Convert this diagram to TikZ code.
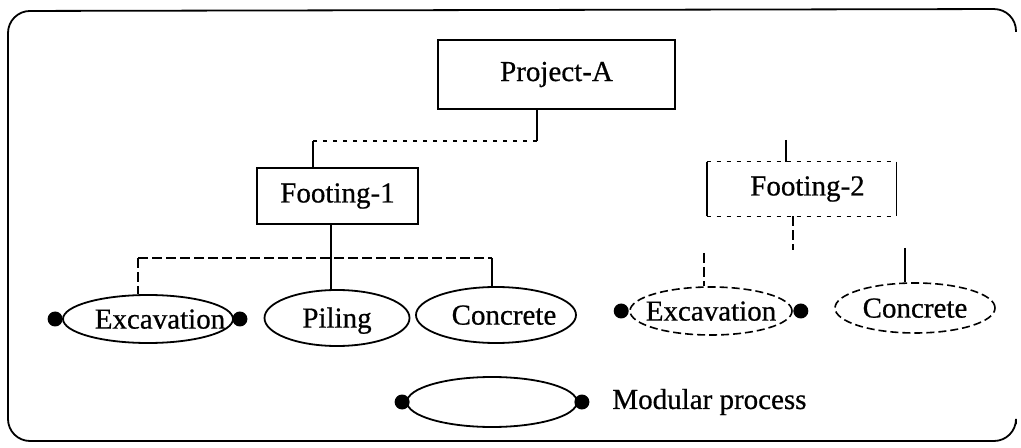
\documentclass[tikz,border=0pt]{standalone}
\usepackage{fontspec}
\setmainfont{Liberation Serif}[FakeBold=0.6]
\usetikzlibrary{shapes.geometric}
\begin{document}
\begin{tikzpicture}[x=0.5pt,y=-0.5pt,
  every node/.style={font=\fontsize{14.5}{17}\selectfont},
  wire/.style={line width=0.9pt},
  dashwire/.style={line width=0.8pt, dash pattern=on 5pt off 2pt},
  dotwire/.style={line width=0.7pt, dash pattern=on 2pt off 3pt},
  box/.style={draw, line width=0.9pt, rectangle, inner sep=0pt},
  proc/.style={draw, line width=0.9pt, ellipse, inner sep=0pt, text height=9.6pt, text depth=0pt},
  dproc/.style={proc, dash pattern=on 4pt off 2pt, line width=0.8pt},
  dot/.style={circle, fill=black, inner sep=0pt, minimum size=7.5pt},
]
\useasboundingbox (0,0) rectangle (1021,448);

% outer frame (right edge left open)
\draw[line width=0.9pt, rounded corners=11pt]
  (1016,32) -- (1016,9) -- (8,11) -- (8,441) -- (1016,441) -- (1016,424);

% work breakdown nodes
\node[box, minimum width=118.5pt, minimum height=34.5pt] (pa) at (556.5,74.5) {Project-A};
\node[box, minimum width=80.5pt, minimum height=28pt] (f1) at (337.5,196) {Footing-1};
\node[rectangle, inner sep=0pt, minimum width=94.5pt, minimum height=27pt] (f2) at (801.5,189) {\hspace{6pt}Footing-2};
\draw[wire] (f2.north west) -- (f2.south west);
\draw[wire] (f2.north east) -- (f2.south east);
\draw[dotwire] (f2.north west) -- (f2.north east);
\draw[dotwire] (f2.south west) -- (f2.south east);

% process ellipses
\node[proc, minimum width=85pt, minimum height=24pt] (e1) at (148,319) {\makebox[0pt]{\hspace{12pt}Excavation}};
\node[proc, minimum width=72.5pt, minimum height=28pt] (pl) at (337,318) {\makebox[0pt]{Piling}};
\node[proc, minimum width=80pt, minimum height=28pt] (c1) at (496,315) {\makebox[0pt]{\hspace{8pt}Concrete}};
\node[dproc, minimum width=81pt, minimum height=24pt] (e2) at (711,311) {\makebox[0pt]{Excavation}};
\node[dproc, minimum width=80pt, minimum height=25pt] (c2) at (915,308) {\makebox[0pt]{Concrete}};

% modular-process markers
\node[dot] (e1l) at ([xshift=-3.5pt]e1.west) {};
\node[dot] (e1r) at ([xshift=3pt]e1.east) {};
\node[dot] (e2l) at ([xshift=-4pt]e2.west) {};
\node[dot] (e2r) at ([xshift=4pt]e2.east) {};

% legend
\node[proc, minimum width=85pt, minimum height=25pt] (lg) at (492,402) {};
\node[dot] (lgl) at ([xshift=-2pt]lg.west) {};
\node[dot] (lgr) at ([xshift=2pt]lg.east) {};
\node[anchor=west, inner sep=0pt] (lgt) at (612,402) {Modular process};

% connectors: Project-A to Footing-1
\coordinate (j0) at (537,141);
\coordinate (j1) at (313,141);
\draw[wire] (pa.south -| j0) -- (j0);
\draw[dotwire] (j0) -- (j1);
\draw[wire] (j1) -- (f1.north -| j1);

% stub above Footing-2
\coordinate (j2) at (786,140);
\draw[wire] (j2) -- (f2.north -| j2);

% Footing-1 to its processes
\coordinate (k0) at (331,258);
\coordinate (k1) at (138,258);
\coordinate (k2) at (492,258);
\draw[wire] (f1.south -| k0) -- (k0);
\draw[dashwire] (k1) -- (k2);
\draw[dashwire] (k1) -- (e1.north -| k1);
\draw[wire] (k0) -- (pl.north -| k0);
\draw[wire] (k2) -- (c1.north -| k2);

% Footing-2 to its processes
\coordinate (m0) at (793,250);
\coordinate (m1) at (704,253);
\coordinate (m2) at (905,248);
\draw[dashwire] (f2.south -| m0) -- (m0);
\draw[dashwire] (m1) -- (e2.north -| m1);
\draw[wire] (m2) -- (c2.north -| m2);
\end{tikzpicture}
\end{document}
